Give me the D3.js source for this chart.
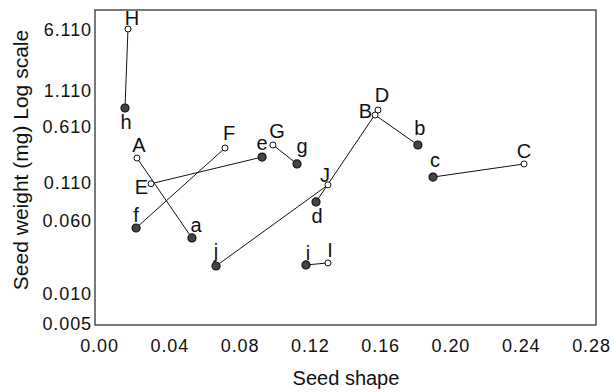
<!DOCTYPE html>
<html>
<head>
<meta charset="utf-8">
<script src="https://cdn.jsdelivr.net/npm/d3@7"></script>
<style>
  html, body { margin: 0; padding: 0; background: #fff; }
  svg { display: block; }
  text { font-family: "Liberation Sans", Arial, sans-serif; fill: #111; }
</style>
</head>
<body>
<svg id="chart" width="614" height="392"></svg>
<script>
// ---- data ----
const upperLabels = ["A", "B", "C", "D", "E", "F", "G", "H", "I", "J"];
const upperShape  = [0.0216, 0.1571, 0.2419, 0.1588, 0.0296, 0.0717, 0.0990, 0.0165, 0.1303, 0.1303];
const upperWeight = [0.229, 0.732, 0.191, 0.796, 0.107, 0.311, 0.341, 6.11, 0.0209, 0.105];

const lowerLabels = ["a", "b", "c", "d", "e", "f", "g", "h", "i", "j"];
const lowerShape  = [0.0529, 0.1815, 0.1901, 0.1235, 0.0928, 0.0211, 0.1127, 0.0148, 0.1178, 0.0666];
const lowerWeight = [0.0386, 0.341, 0.128, 0.080, 0.236, 0.0493, 0.191, 0.823, 0.0199, 0.0194];

const xTickValues = [0.00, 0.04, 0.08, 0.12, 0.16, 0.20, 0.24, 0.28];
const yTickValues = [0.005, 0.010, 0.060, 0.110, 0.610, 1.110, 6.110];

const xTitle = "Seed shape";
const yTitle = "Seed weight (mg) Log scale";

// ---- layout ----
const svg = d3.select("#chart");
const frame = { left: 95, top: 10, right: 596, bottom: 325 };

const x = d3.scaleLinear().domain([0, 0.28]).range([99, 591]);
// piecewise log axis as printed in the original figure
const y = d3.scaleLog().domain(yTickValues).range([323, 293, 220, 182, 126, 90, 29]);

// frame
svg.append("rect")
  .attr("x", frame.left).attr("y", frame.top)
  .attr("width", frame.right - frame.left).attr("height", frame.bottom - frame.top)
  .attr("fill", "none").attr("stroke", "#333").attr("stroke-width", 1.3);

// axes (labels only, no tick marks)
const xAxis = d3.axisBottom(x).tickValues(xTickValues).tickFormat(d3.format(".2f")).tickSize(0).tickPadding(0);
const gx = svg.append("g").attr("transform", "translate(0,339)").call(xAxis);
gx.select(".domain").remove();
gx.selectAll("text").attr("font-size", 18).attr("dy", "0.71em")
  .style("letter-spacing", "0.9px")
  .style("font-family", "'Liberation Sans', Arial, sans-serif").attr("fill", "#111");

const yAxis = d3.axisLeft(y).tickValues(yTickValues).tickFormat(d3.format(".3f")).tickSize(0).tickPadding(0);
const gy = svg.append("g").attr("transform", "translate(92,0)").call(yAxis);
gy.select(".domain").remove();
gy.selectAll("text").attr("font-size", 18).attr("dy", "0.35em")
  .style("letter-spacing", "0.9px")
  .style("font-family", "'Liberation Sans', Arial, sans-serif").attr("fill", "#111");

// titles
svg.append("text").attr("x", 346).attr("y", 385).attr("text-anchor", "middle")
  .attr("font-size", 20).text(xTitle);
svg.append("text").attr("transform", "translate(28,160) rotate(-90)")
  .attr("text-anchor", "middle").attr("font-size", 21).text(yTitle);

// connecting lines
const pairs = upperLabels.map((L, i) => ({
  x1: upperShape[i], y1: upperWeight[i], x2: lowerShape[i], y2: lowerWeight[i]
}));
svg.append("g").selectAll("line").data(pairs).join("line")
  .attr("x1", d => x(d.x1)).attr("y1", d => y(d.y1))
  .attr("x2", d => x(d.x2)).attr("y2", d => y(d.y2))
  .attr("stroke", "#111").attr("stroke-width", 1);

// points
const upperPts = upperLabels.map((L, i) => ({ label: L, sx: upperShape[i], w: upperWeight[i] }));
const lowerPts = lowerLabels.map((L, i) => ({ label: L, sx: lowerShape[i], w: lowerWeight[i] }));

svg.append("g").selectAll("circle").data(lowerPts).join("circle")
  .attr("cx", d => x(d.sx)).attr("cy", d => y(d.w)).attr("r", 4)
  .attr("fill", "#444").attr("stroke", "#111").attr("stroke-width", 1.2);
svg.append("g").selectAll("circle").data(upperPts).join("circle")
  .attr("cx", d => x(d.sx)).attr("cy", d => y(d.w)).attr("r", 3)
  .attr("fill", "#fff").attr("stroke", "#111").attr("stroke-width", 1);

// label placement (dx, dy, anchor) relative to each point
const place = {
  A: [2, -6, "middle"], B: [-3, 3, "end"], C: [0, -6, "middle"], D: [4, -8, "middle"],
  E: [-3, 10, "end"], F: [4, -8, "middle"], G: [4, -7, "middle"], H: [4, -4, "middle"],
  I: [2, -6, "middle"], J: [-3, -3, "middle"],
  a: [4, -6, "middle"], b: [2, -10, "middle"], c: [2, -10, "middle"], d: [1, 21, "middle"],
  e: [0, -7, "middle"], f: [0, -6, "middle"], g: [5, -11, "middle"], h: [1, 21, "middle"],
  i: [2, -5, "middle"], j: [0, -8, "middle"]
};
svg.append("g").selectAll("text").data(upperPts.concat(lowerPts)).join("text")
  .attr("x", d => x(d.sx) + place[d.label][0])
  .attr("y", d => y(d.w) + place[d.label][1])
  .attr("text-anchor", d => place[d.label][2])
  .attr("font-size", 20)
  .text(d => d.label);
</script>
</body>
</html>
